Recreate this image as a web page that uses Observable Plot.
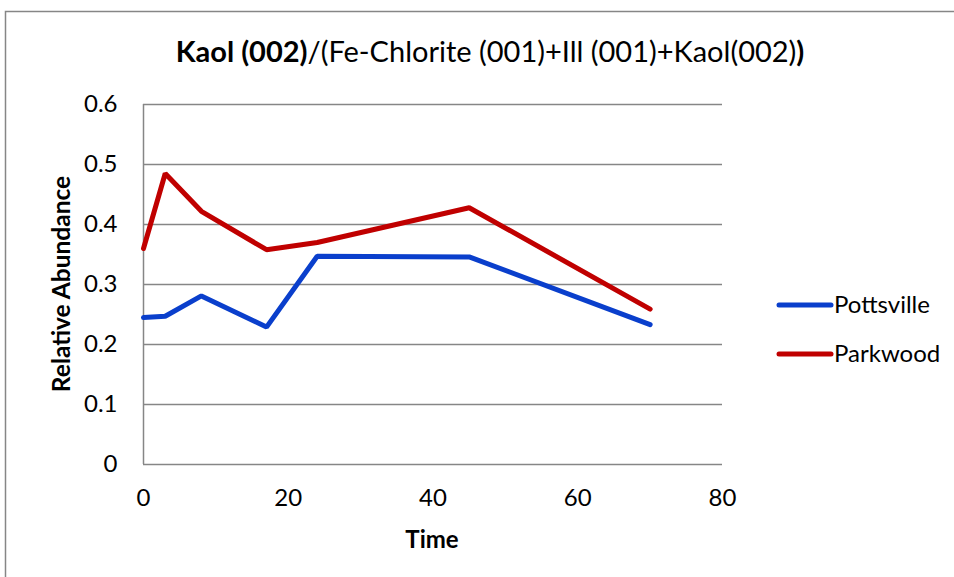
<!DOCTYPE html>
<html>
<head>
<meta charset="utf-8">
<script src="https://cdn.jsdelivr.net/npm/d3@7"></script>
<script src="https://cdn.jsdelivr.net/npm/@observablehq/plot@0.6"></script>
<style>
  html, body { margin: 0; padding: 0; background: #fff; }
  #chart { position: relative; width: 954px; height: 577px; }
  svg { font-family: Lato, "Open Sans", sans-serif; }
</style>
</head>
<body>
<div id="chart"></div>
<script>
const time = [0, 3, 8, 17, 24, 45, 70];
const pottsville = [0.245, 0.247, 0.281, 0.229, 0.347, 0.346, 0.233];
const parkwood = [0.360, 0.485, 0.422, 0.358, 0.370, 0.428, 0.259];
const seriesNames = ["Pottsville", "Parkwood"];
const seriesColors = ["#0a3fcc", "#c00000"];
const xTicks = [0, 20, 40, 60, 80];
const yTicks = [0, 0.1, 0.2, 0.3, 0.4, 0.5, 0.6];

const rows = [];
time.forEach((t, i) => {
  rows.push({series: seriesNames[0], time: t, value: pottsville[i]});
  rows.push({series: seriesNames[1], time: t, value: parkwood[i]});
});

const plot = Plot.plot({
  width: 954,
  height: 577,
  marginLeft: 143,
  marginRight: 232,
  marginTop: 104,
  marginBottom: 113,
  style: {fontFamily: "Lato, 'Open Sans', sans-serif", background: "#fff"},
  x: {domain: [0, 80], ticks: xTicks},
  y: {domain: [0, 0.6], ticks: yTicks},
  color: {domain: seriesNames, range: seriesColors},
  marks: [
    Plot.gridY(yTicks, {stroke: "#868686", strokeOpacity: 1, strokeWidth: 1.5}),
    Plot.ruleX([0], {stroke: "#868686", strokeWidth: 1.5}),
    Plot.axisY(yTicks, {tickSize: 0, tickPadding: 26, fontSize: 24, fill: "#000", label: null, tickFormat: d => d === 0 ? "0" : d3.format(".1f")(d)}),
    Plot.axisX(xTicks, {tickSize: 0, tickPadding: 24, fontSize: 24, fill: "#000", label: null}),
    Plot.line(rows, {x: "time", y: "value", z: "series", stroke: "series", strokeWidth: 5, strokeLinecap: "round", strokeLinejoin: "miter"})
  ]
});

document.getElementById("chart").appendChild(plot);
const svg = d3.select(plot);

// outer border (top and left)
svg.append("path").attr("d", "M5.5,577V11.5H954").attr("fill", "none").attr("stroke", "#868686").attr("stroke-width", 1.5);

// title
const title = svg.append("text").attr("x", 490).attr("y", 62).attr("text-anchor", "middle")
  .attr("font-size", 29).attr("fill", "#000");
title.append("tspan").attr("font-weight", "bold").text("Kaol (002)");
title.append("tspan").text("/(Fe-Chlorite (001)+Ill (001)+Kaol(002)");
title.append("tspan").attr("font-weight", "bold").text(")");

// axis labels
svg.append("text").attr("x", 432).attr("y", 548).attr("text-anchor", "middle")
  .attr("font-size", 24).attr("font-weight", "bold").attr("fill", "#000").text("Time");
svg.append("text").attr("transform", "translate(70,284) rotate(-90)").attr("text-anchor", "middle")
  .attr("font-size", 24.5).attr("font-weight", "bold").attr("fill", "#000").text("Relative Abundance");

// legend
const leg = svg.append("g");
seriesNames.forEach((name, i) => {
  const y = 305 + i * 49;
  leg.append("line").attr("x1", 779).attr("x2", 831).attr("y1", y).attr("y2", y)
    .attr("stroke", seriesColors[i]).attr("stroke-width", 5).attr("stroke-linecap", "round");
  leg.append("text").attr("x", 834).attr("y", y + 8).attr("text-anchor", "start")
    .attr("font-size", 24).attr("fill", "#000").text(name);
});
</script>
</body>
</html>
